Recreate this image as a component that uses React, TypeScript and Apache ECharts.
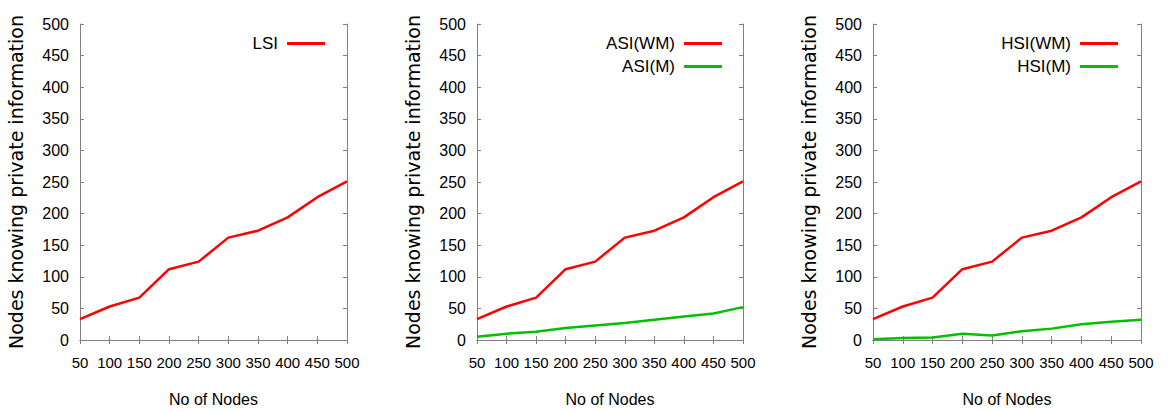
import React, { useEffect, useRef } from "react";
import * as echarts from "echarts";

const nodes = [50, 100, 150, 200, 250, 300, 350, 400, 450, 500];
const lsi = [33, 53, 67, 112, 124, 162, 173, 194, 226, 251];
const asiWM = [33, 53, 67, 112, 124, 162, 173, 194, 226, 251];
const asiM = [5, 10, 13, 19, 23, 27, 32, 37, 42, 52];
const hsiWM = [33, 53, 67, 112, 124, 162, 173, 194, 226, 251];
const hsiM = [1, 3, 4, 10, 7, 14, 18, 25, 29, 32];

const xTitle = "No of Nodes";
const yTitle = "Nodes knowing private information";

const RED = "#ff0000";
const GREEN = "#00c000";
const FRAME = "#808080";
const SANS = "'Liberation Sans', Arial, sans-serif";

const panels = [
  { left: 80, width: 267, legendRight: 838, series: [{ name: "LSI", data: lsi, color: RED }] },
  {
    left: 477,
    width: 266,
    legendRight: 441,
    series: [
      { name: "ASI(WM)", data: asiWM, color: RED },
      { name: "ASI(M)", data: asiM, color: GREEN },
    ],
  },
  {
    left: 873,
    width: 268,
    legendRight: 45,
    series: [
      { name: "HSI(WM)", data: hsiWM, color: RED },
      { name: "HSI(M)", data: hsiM, color: GREEN },
    ],
  },
];

export default function App() {
  const ref = useRef<HTMLDivElement>(null);
  useEffect(() => {
    if (!ref.current) return;
    const chart = echarts.init(ref.current, undefined, { renderer: "svg" });
    const grid: any[] = [];
    const xAxis: any[] = [];
    const yAxis: any[] = [];
    const series: any[] = [];
    const legend: any[] = [];
    const tickStyle = { show: true, inside: true, length: 4, lineStyle: { color: FRAME, width: 1 } };
    const lineStyle = { show: true, lineStyle: { color: FRAME, width: 1 } };
    panels.forEach((p, i) => {
      grid.push({ left: p.left, top: 24, width: p.width, height: 316, containLabel: false });
      xAxis.push({
        type: "value",
        gridIndex: i,
        min: 50,
        max: 500,
        interval: 50,
        position: "bottom",
        name: xTitle,
        nameLocation: "middle",
        nameGap: 51,
        nameTextStyle: { fontFamily: SANS, fontSize: 16, color: "#000" },
        axisLine: lineStyle,
        axisTick: tickStyle,
        splitLine: { show: false },
        axisLabel: {
          fontFamily: SANS,
          fontSize: 15,
          color: "#000",
          margin: 15,
          showMinLabel: true,
          showMaxLabel: true,
          hideOverlap: false,
        },
      });
      xAxis.push({
        type: "value",
        gridIndex: i,
        min: 50,
        max: 500,
        interval: 50,
        position: "top",
        axisLine: lineStyle,
        axisTick: tickStyle,
        splitLine: { show: false },
        axisLabel: { show: false },
      });
      yAxis.push({
        type: "value",
        gridIndex: i,
        min: 0,
        max: 500,
        interval: 50,
        position: "left",
        name: yTitle,
        nameLocation: "middle",
        nameGap: 55,
        nameTextStyle: { fontFamily: "'DejaVu Sans', sans-serif", fontSize: 19, color: "#000" },
        axisLine: lineStyle,
        axisTick: tickStyle,
        splitLine: { show: false },
        axisLabel: { fontFamily: SANS, fontSize: 16, color: "#000", margin: 11 },
      });
      yAxis.push({
        type: "value",
        gridIndex: i,
        min: 0,
        max: 500,
        interval: 50,
        position: "right",
        axisLine: lineStyle,
        axisTick: tickStyle,
        splitLine: { show: false },
        axisLabel: { show: false },
      });
      p.series.forEach((s) => {
        series.push({
          type: "line",
          name: s.name,
          xAxisIndex: i * 2,
          yAxisIndex: i * 2,
          data: nodes.map((n, k) => [n, s.data[k]]),
          showSymbol: false,
          symbol: "none",
          lineStyle: { color: s.color, width: 2.5 },
          itemStyle: { color: s.color },
        });
      });
      legend.push({
        data: p.series.map((s) => s.name),
        orient: "vertical",
        right: p.legendRight,
        top: 30,
        align: "right",
        icon: "rect",
        itemWidth: 38,
        itemHeight: 3,
        itemGap: 6,
        selectedMode: false,
        textStyle: { fontFamily: SANS, fontSize: 17, color: "#000", padding: [0, 4, 0, 0] },
      });
    });
    chart.setOption({
      animation: false,
      backgroundColor: "#fff",
      grid,
      xAxis,
      yAxis,
      series,
      legend,
    });
    return () => chart.dispose();
  }, []);
  return (
    <div
      ref={ref}
      style={{ position: "absolute", left: 0, top: 0, width: 1168, height: 412 }}
    />
  );
}
